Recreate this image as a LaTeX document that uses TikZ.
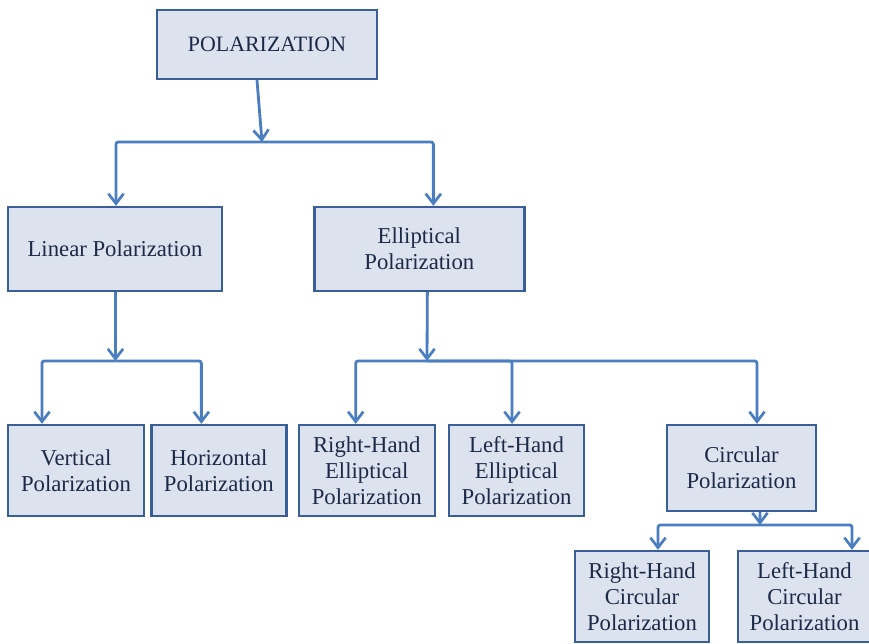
\documentclass[tikz,border=0pt]{standalone}
\usepackage{fontspec}
\setmainfont{Liberation Serif}
\newfontfamily\polfont{Liberation Serif}
\usetikzlibrary{arrows.meta, positioning}
\definecolor{polfill}{HTML}{DCE3EF}
\definecolor{poldraw}{HTML}{3A5F98}
\definecolor{polline}{HTML}{4A7EC0}
\definecolor{poltext}{HTML}{1C2A48}
\tikzset{
    >=Latex,
    pol_box/.style={
        rectangle,
        draw=poldraw,
        fill=polfill,
        line width=2pt,
        text=poltext,
        align=center,
        inner sep=2pt,
        font=\polfont\fontsize{19.4}{22}\selectfont,
        minimum height=2.73cm
    },
    pol_root/.style={
        pol_box,
        font=\polfont\fontsize{18.7}{21}\selectfont,
        minimum width=6.6cm,
        minimum height=2.07cm
    },
    pol_arrow/.style={
        -{Straight Barb[length=8.5pt, width=13pt, line width=2.3pt]},
        draw=polline,
        line width=2.4pt,
        rounded corners=2pt
    }
}

\begin{document}
\begin{tikzpicture}[x=0.03cm, y=-0.03cm]
\useasboundingbox (0,0) rectangle (869,643);

% --- Level 0 ---
\node[pol_root] (Root) at (267,44.5) {POLARIZATION};

% --- Level 1 ---
\node[pol_box, minimum width=6.42cm, minimum height=2.52cm] (Linear) at (115,249) {Linear Polarization};
\node[pol_box, minimum width=6.3cm, minimum height=2.52cm, right=2.7cm of Linear] (Elliptical) {Elliptical\\Polarization};

% --- Level 2 ---
\node[pol_box, minimum width=4.08cm] (Vertical) at (76,470.5) {Vertical\\Polarization};
\node[pol_box, minimum width=4.05cm, right=0.15cm of Vertical] (Horizontal) {Horizontal\\Polarization};
\node[pol_box, minimum width=4.08cm, right=0.3cm of Horizontal] (RightEll) {Right-Hand\\Elliptical\\Polarization};
\node[pol_box, minimum width=4.05cm, right=0.36cm of RightEll] (LeftEll) {Left-Hand\\Elliptical\\Polarization};
\node[pol_box, minimum width=4.47cm, minimum height=2.58cm] (Circular) at (741.5,468) {Circular\\Polarization};

% --- Level 3 ---
\node[pol_box, minimum width=4.02cm] (RightCirc) at (642,596.5) {Right-Hand\\Circular\\Polarization};
\node[pol_box, minimum width=3.99cm, right=0.8cm of RightCirc] (LeftCirc) {Left-Hand\\Circular\\Polarization};

% --- Split points ---
\coordinate (RootSplit) at (262,142);
\coordinate (LinearSplit) at (115.5,361);
\coordinate (EllSplit) at (427,361);
\coordinate (CircSplit) at (760,525);

% --- Edges ---
\draw[pol_arrow] ([xshift=-0.3cm]Root.south) -- (RootSplit);
\draw[pol_arrow] (RootSplit) -| ([xshift=0.03cm]Linear.north);
\draw[pol_arrow] (RootSplit) -| ([xshift=0.42cm]Elliptical.north);

\draw[pol_arrow] ([xshift=0.015cm]Linear.south) -- (LinearSplit);
\draw[pol_arrow] (LinearSplit) -| ([xshift=-1.02cm]Vertical.north);
\draw[pol_arrow] (LinearSplit) -| ([xshift=-0.525cm]Horizontal.north);

\draw[pol_arrow] ([xshift=0.24cm]Elliptical.south) -- (EllSplit);
\draw[pol_arrow] (EllSplit) -| ([xshift=-0.33cm]RightEll.north);
\draw[pol_arrow] (EllSplit) -| ([xshift=-0.135cm]LeftEll.north);
\draw[pol_arrow] (EllSplit) -| ([xshift=0.465cm]Circular.north);

\draw[pol_arrow] ([xshift=0.555cm]Circular.south) -- (CircSplit);
\draw[pol_arrow] (CircSplit) -| ([xshift=0.48cm]RightCirc.north);
\draw[pol_arrow] (CircSplit) -| ([xshift=1.425cm]LeftCirc.north);

\end{tikzpicture}
\end{document}
